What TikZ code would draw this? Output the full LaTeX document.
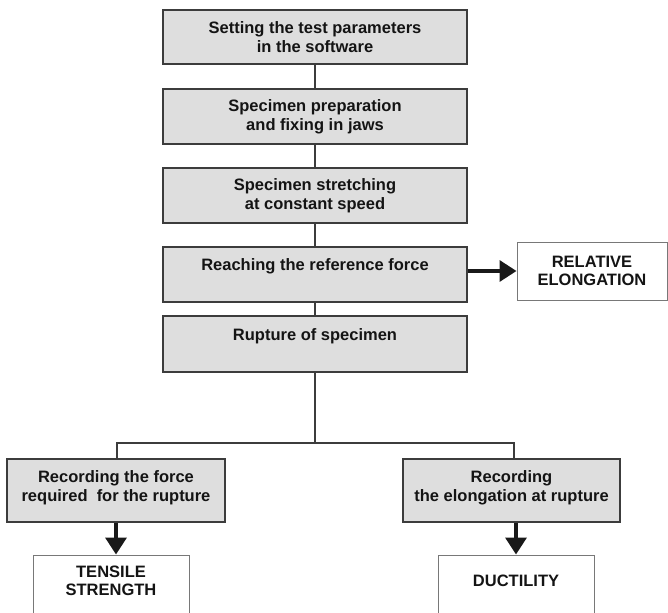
\documentclass[tikz,border=0pt]{standalone}
\usepackage{fontspec}
\setmainfont{Liberation Sans}
\usetikzlibrary{arrows.meta}
\definecolor{boxfill}{RGB}{222,222,222}
\definecolor{boxline}{RGB}{60,60,60}
\definecolor{txt}{RGB}{20,20,20}
\definecolor{wline}{RGB}{120,120,120}
\tikzset{
  stepbox/.style={draw=boxline, line width=1.5pt, fill=boxfill, align=center, text=txt,
    font=\fontsize{16.5}{19}\selectfont\bfseries, inner sep=0pt},
  resbox/.style={draw=wline, line width=1pt, fill=white, align=center, text=txt,
    font=\fontsize{16.5}{18}\selectfont\bfseries, inner sep=0pt},
  conn/.style={draw=boxline, line width=1.5pt},
  bigarrow/.style={draw=black!90, line width=3.5pt, -{Triangle[width=21pt,length=17pt]}},
}
\begin{document}
\begin{tikzpicture}[x=1pt,y=-1pt]
\useasboundingbox (0,0) rectangle (668,612);
\node[stepbox, minimum width=304pt, minimum height=54pt] (b1) at (315,37) {Setting the test parameters\\in the software};
\node[stepbox, minimum width=304pt, minimum height=55pt] (b2) at (315,116.5) {Specimen preparation\\and fixing in jaws};
\node[stepbox, minimum width=304pt, minimum height=55pt] (b3) at (315,195.5) {Specimen stretching\\at constant speed};
\node[stepbox, minimum width=304pt, minimum height=55pt] (b4) at (315,274.5) {Reaching the reference force\\ \mbox{}};
\node[stepbox, minimum width=304pt, minimum height=56pt] (b5) at (315,344) {Rupture of specimen\\ \mbox{}};
\node[resbox, minimum width=150pt, minimum height=58pt] (rel) at (592,271) {RELATIVE\\ELONGATION};
\node[stepbox, minimum width=218pt, minimum height=63pt] (lrec) at (116,490.5) {Recording the force\\required\ \ for the rupture\\[-10pt]\mbox{}};
\node[stepbox, minimum width=217pt, minimum height=63pt] (rrec) at (511.5,490.5) {Recording\\the elongation at rupture\\[-10pt]\mbox{}};
\node[resbox, minimum width=156pt, minimum height=70pt] (ten) at (111,590) {TENSILE\\STRENGTH\\ \mbox{}};
\node[resbox, minimum width=156pt, minimum height=70pt] (duct) at (516,590) {DUCTILITY\\ \mbox{}};
\coordinate (split) at (315,443);
\draw[conn] (b1) -- (b2);
\draw[conn] (b2) -- (b3);
\draw[conn] (b3) -- (b4);
\draw[conn] (b4) -- (b5);
\draw[conn] (b5) -- (split);
\draw[conn] ([xshift=1pt]lrec.north) |- (split) -| ([xshift=2.5pt]rrec.north);
\draw[bigarrow] (b4.east |- rel.west) -- (rel.west);
\draw[bigarrow] (lrec.south) -- (lrec.south |- ten.north);
\draw[bigarrow] (rrec.south -| duct.north) -- (duct.north);
\end{tikzpicture}
\end{document}
